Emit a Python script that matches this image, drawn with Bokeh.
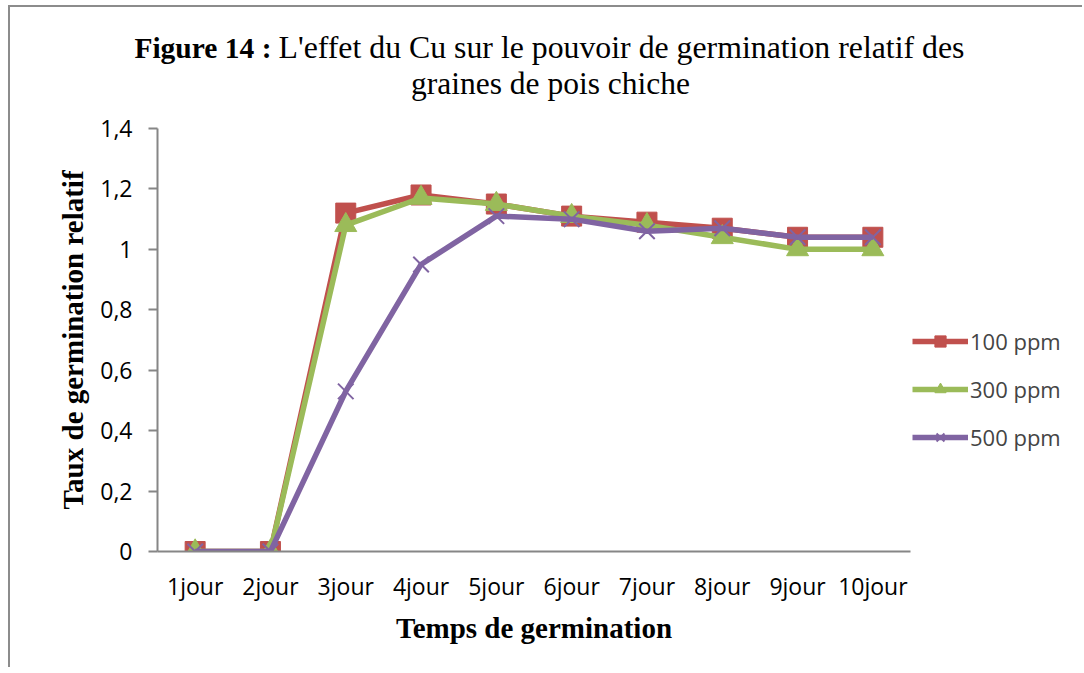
from bokeh.plotting import figure
from bokeh.models import (FactorRange, Range1d, Legend, LegendItem, Label,
                          CustomJSTickFormatter, FixedTicker)
from bokeh.embed import file_html
from bokeh.resources import INLINE

days = ["1jour", "2jour", "3jour", "4jour", "5jour", "6jour", "7jour", "8jour", "9jour", "10jour"]
ppm100 = [0, 0, 1.12, 1.18, 1.15, 1.11, 1.09, 1.07, 1.04, 1.04]
ppm300 = [0, 0, 1.08, 1.17, 1.15, 1.11, 1.08, 1.04, 1.00, 1.00]
ppm500 = [0, 0, 0.53, 0.95, 1.11, 1.10, 1.06, 1.07, 1.04, 1.04]
y_ticks = [0, 0.2, 0.4, 0.6, 0.8, 1.0, 1.2, 1.4]
series_names = ["100 ppm", "300 ppm", "500 ppm"]
title_bold = "Figure 14 :"
title_rest = "L'effet du Cu sur le pouvoir de germination relatif des"
title_line2 = "graines de pois chiche"

RED = "#C0504D"
GREEN = "#9BBB59"
PURPLE = "#8064A2"
AXIS = "#868686"
W = 1074
TF = "Liberation Serif"

# ---- title strip ----
tf = figure(width=W, height=100, x_range=Range1d(0, W), y_range=Range1d(100, 0),
            output_backend="svg", toolbar_location=None, min_border=0,
            x_axis_location=None, y_axis_location=None,
            styles={"position": "absolute", "left": "8px", "top": "5px",
                    "border-left": "2px solid #8c8c8c", "border-top": "2px solid #8c8c8c"})
tf.outline_line_color = None
tf.grid.grid_line_color = None
tf.border_fill_color = "white"
tf.add_layout(Label(x=261, y=40, text=title_bold, text_font=TF, text_font_style="bold",
                    text_font_size="29.5px", text_align="right", text_baseline="middle",
                    text_color="black"))
tf.add_layout(Label(x=268, y=40, text=title_rest, text_font=TF,
                    text_font_size="31.8px", text_align="left", text_baseline="middle",
                    text_color="black"))
tf.add_layout(Label(x=540, y=76, text=title_line2, text_font=TF,
                    text_font_size="31.5px", text_align="center", text_baseline="middle",
                    text_color="black"))

# ---- main chart ----
p = figure(width=W, height=562, x_range=FactorRange(*days, range_padding=0),
           y_range=Range1d(0, 1.4), output_backend="svg", toolbar_location=None,
           min_border_left=147, min_border_top=23, min_border_right=174,
           min_border_bottom=116,
           styles={"position": "absolute", "left": "8px", "top": "105px",
                   "border-left": "2px solid #8c8c8c"})
p.outline_line_color = None
p.grid.grid_line_color = None
p.background_fill_color = "white"
p.border_fill_color = "white"

p.line(days, ppm100, line_color=RED, line_width=5.5)
p.scatter(days, ppm100, marker="square", size=20, fill_color=RED, line_color=RED)
p.line(days, ppm300, line_color=GREEN, line_width=5.5)
p.scatter(days, ppm300, marker="triangle", size=22, fill_color=GREEN, line_color=GREEN)
p.line(days, ppm500, line_color=PURPLE, line_width=5.5)
p.scatter(days, ppm500, marker="x", size=22, line_color=PURPLE, line_width=2)

p.yaxis.ticker = FixedTicker(ticks=y_ticks)
p.yaxis.formatter = CustomJSTickFormatter(code="return tick.toFixed(1).replace('.', ',').replace(/,0$/, '');")
for ax in (p.xaxis[0], p.yaxis[0]):
    ax.axis_line_color = AXIS
    ax.axis_line_width = 2
    ax.major_tick_line_color = AXIS
    ax.major_tick_line_width = 2
    ax.minor_tick_line_color = None
    ax.major_label_text_font = "Open Sans"
    ax.major_label_text_font_size = "23px"
    ax.major_label_text_color = "black"
    ax.axis_label_text_font = TF
    ax.axis_label_text_font_style = "bold"
    ax.axis_label_text_font_size = "29px"
    ax.axis_label_text_color = "black"
p.yaxis.major_tick_in = 0
p.yaxis.major_tick_out = 9
p.yaxis.major_label_standoff = 16
p.yaxis.axis_label = "Taux de germination relatif"
p.yaxis.axis_label_standoff = 8
p.xaxis.major_tick_in = 0
p.xaxis.major_tick_out = 0
p.xaxis.major_label_standoff = 18
p.xaxis.axis_label = "Temps de germination"
p.xaxis.axis_label_standoff = 7

# ---- legend strip (overlaid to the right of the plot area) ----
lf = figure(width=172, height=130, x_range=FactorRange(*days), y_range=Range1d(0, 1.4),
            output_backend="svg", toolbar_location=None, min_border=0,
            x_axis_location=None, y_axis_location=None,
            styles={"position": "absolute", "left": "912px", "top": "326px"})
lf.outline_line_color = None
lf.grid.grid_line_color = None
lf.background_fill_color = None
lf.border_fill_color = None
rl1 = lf.line(days, ppm100, line_color=RED, line_width=5.5, visible=False)
rm1 = lf.scatter(days, ppm100, marker="square", size=20, fill_color=RED, line_color=RED, visible=False)
rl2 = lf.line(days, ppm300, line_color=GREEN, line_width=5.5, visible=False)
rm2 = lf.scatter(days, ppm300, marker="triangle", size=22, fill_color=GREEN, line_color=GREEN, visible=False)
rl3 = lf.line(days, ppm500, line_color=PURPLE, line_width=5.5, visible=False)
rm3 = lf.scatter(days, ppm500, marker="x", size=20, line_color=PURPLE, line_width=2, visible=False)
legend = Legend(items=[LegendItem(label=series_names[0], renderers=[rl1, rm1]),
                       LegendItem(label=series_names[1], renderers=[rl2, rm2]),
                       LegendItem(label=series_names[2], renderers=[rl3, rm3])],
                location="top_left", padding=0, margin=0, spacing=18,
                glyph_width=56, glyph_height=28, label_height=28, label_standoff=2,
                label_text_font="Open Sans", label_text_font_size="22px",
                border_line_color=None, background_fill_alpha=0,
                inactive_fill_alpha=0)
lf.add_layout(legend, "center")

open("out.html", "w").write(file_html([tf, p, lf], INLINE))
